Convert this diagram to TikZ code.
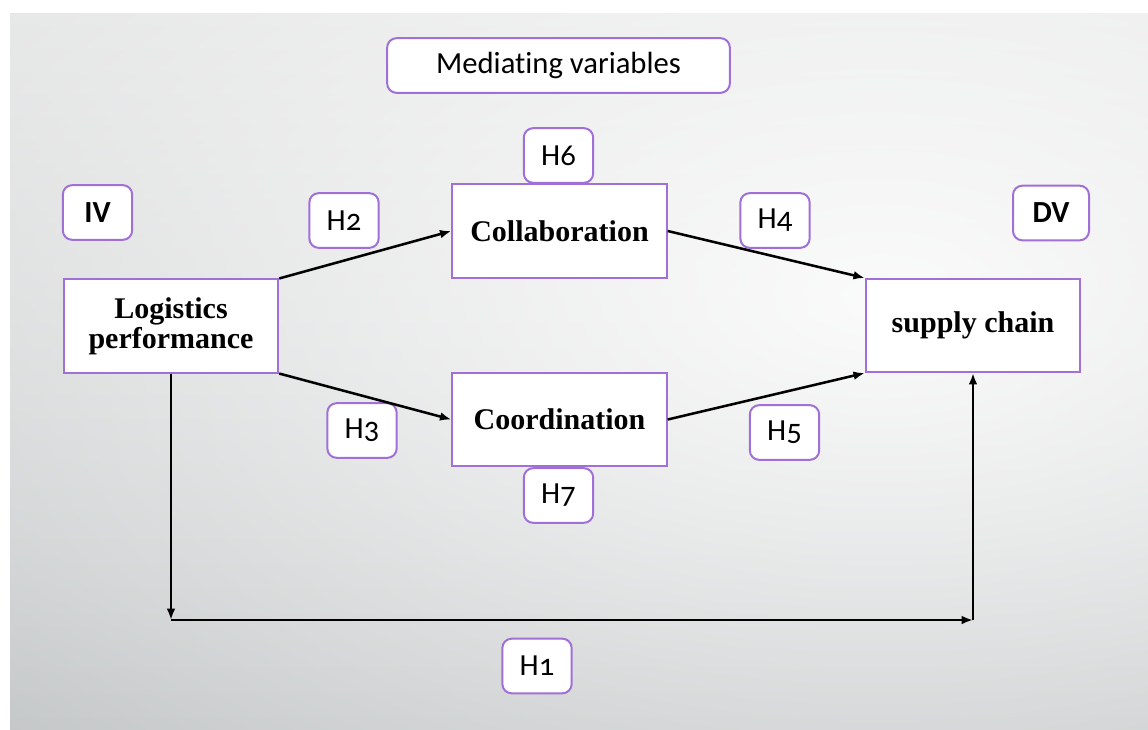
\documentclass[tikz,border=0pt]{standalone}
\usepackage{fontspec}
\setmainfont{Liberation Serif}
\newfontfamily\badgefont[Numbers=OldStyle, Ligatures=NoCommon]{Carlito}
\usetikzlibrary{arrows.meta,fadings}
\definecolor{lilac}{RGB}{160,112,214}
\definecolor{bgtop}{RGB}{227,228,228}
\definecolor{bgbottom}{RGB}{196,199,200}
\tikzfading[name=glow, inner color=transparent!10, outer color=transparent!100]

\begin{document}
\begin{tikzpicture}[x=0.75pt, y=-0.75pt,
	badge/.style={draw=lilac, line width=1.5pt, rounded corners=7pt, fill=white, inner sep=0pt,
		minimum width=52pt, minimum height=41pt, font=\badgefont\fontsize{23}{25}\selectfont},
	tag/.style={badge, font=\badgefont\bfseries\fontsize{23}{25}\selectfont},
	varbox/.style={draw=lilac, line width=1.3pt, fill=white, inner sep=0pt, minimum width=161pt,
		minimum height=70pt, align=center, font=\bfseries\fontsize{22.5}{22.5}\selectfont},
	arr/.style={-{Latex[length=8.5pt,width=6.5pt]}, line width=1.9pt}]

	\useasboundingbox (0,0) rectangle (1148,729);
	\shade[top color=bgtop, bottom color=bgbottom] (10,13) rectangle (1148,729);
	\begin{scope}
		\clip (10,13) rectangle (1148,729);
		\fill[white, path fading=glow] (880,300) ellipse (1200 and 660);
	\end{scope}

	\node[badge, minimum width=257pt] (med) at (558.5,65.5) {Mediating variables};
	\node[tag] (iv) at (97.5,212.5) {IV};
	\node[tag, minimum width=57pt] (dv) at (1051,213) {DV};

	\node[varbox] (lp) at (171,326) {Logistics\\performance};
	\node[varbox] (collab) at (559.5,231) {Collaboration};
	\node[varbox] (coord) at (559.5,419.5) {Coordination};
	\node[varbox] (sc) at (973,325.5) {supply chain};

	\node[badge] (h1) at (537,666) {H1};
	\node[badge] (h2) at (344,220.5) {H2};
	\node[badge] (h3) at (362,430.5) {H3};
	\node[badge] (h4) at (775,220.5) {H4};
	\node[badge] (h5) at (784.5,432.5) {H5};
	\node[badge] (h6) at (558.5,155.5) {H6};
	\node[badge] (h7) at (558.5,495.5) {H7};

	\draw[arr] (lp.north east) -- (collab.west);
	\draw[arr] (lp.south east) -- (coord.west);
	\draw[arr] (collab.east) -- (sc.north west);
	\draw[arr] (coord.east) -- (sc.south west);

	\coordinate (base) at (0,620);
	\coordinate (c1) at (lp.south |- base);
	\coordinate (c2) at (sc.south |- base);
	\draw[arr] (lp.south) -- (c1);
	\draw[arr] (c1) -- (c2);
	\draw[arr] (c2) -- (sc.south);
\end{tikzpicture}
\end{document}
